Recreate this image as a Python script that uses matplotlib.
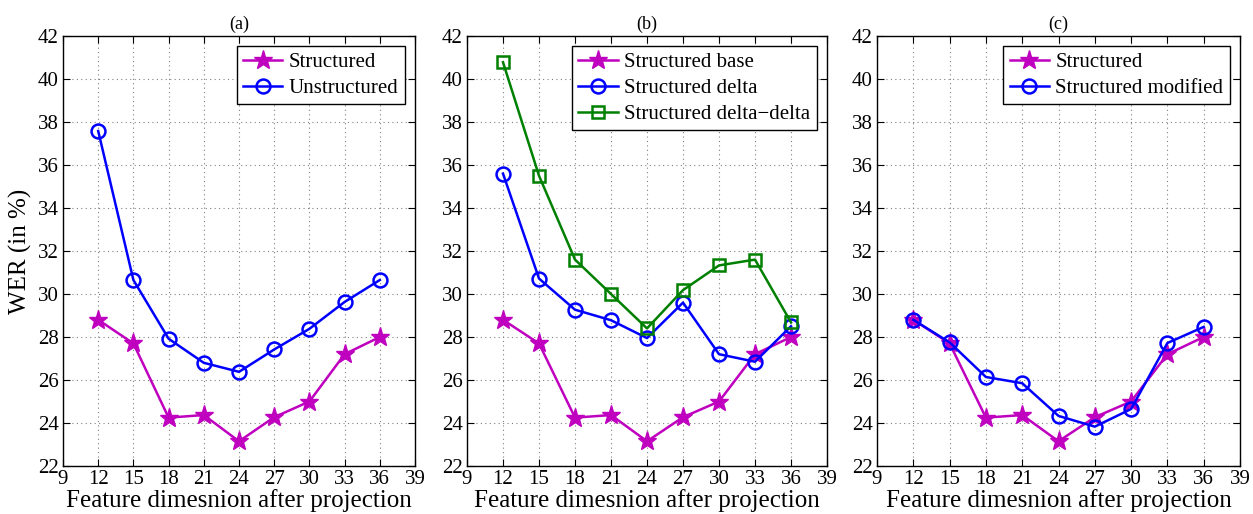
import matplotlib
matplotlib.use("Agg")
import matplotlib.pyplot as plt
import numpy as np

plt.rcParams['font.family'] = ['Liberation Serif', 'DejaVu Serif']
plt.rcParams['mathtext.fontset'] = 'stix'

dims = [12, 15, 18, 21, 24, 27, 30, 33, 36]

structured = [28.8, 27.7, 24.25, 24.37, 23.15, 24.27, 25.0, 27.2, 28.0]
unstructured = [37.58, 30.65, 27.92, 26.8, 26.38, 27.42, 28.38, 29.63, 30.65]

struct_delta = [35.6, 30.72, 29.27, 28.78, 27.95, 29.6, 27.2, 26.85, 28.5]
struct_delta_delta = [40.78, 35.5, 31.6, 30.0, 28.4, 30.18, 31.33, 31.6, 28.68]

struct_modified = [28.8, 27.75, 26.14, 25.85, 24.33, 23.83, 24.65, 27.72, 28.47]

xticks = list(range(9, 40, 3))
yticks = list(range(22, 43, 2))

MAGENTA = (0.75, 0.0, 0.75)
BLUE = (0.0, 0.0, 1.0)
GREEN = (0.0, 0.5, 0.0)

W, H = 1253, 514
fig = plt.figure(figsize=(W / 100, H / 100), dpi=100)

boxes = [(63, 415), (467, 827), (877, 1240)]
top, bottom = 36, 466


def make_axes(x0, x1):
    return fig.add_axes([x0 / W, (H - bottom) / H, (x1 - x0) / W, (bottom - top) / H])


def style(ax, title):
    ax.set_xlim(9, 39)
    ax.set_ylim(22, 42)
    ax.set_xticks(xticks)
    ax.set_yticks(yticks)
    ax.tick_params(direction='in', top=True, right=True, labelsize=15, length=5, width=0.8, pad=3)
    ax.grid(True, linestyle=(0, (1, 3)), color='0.5', linewidth=0.8)
    for s in ax.spines.values():
        s.set_linewidth(1.0)
    ax.set_title(title, fontsize=13, pad=5)
    ax.set_xlabel('Feature dimesnion after projection', fontsize=18, labelpad=0)


star_kw = dict(color=MAGENTA, marker='*', markersize=14, linewidth=1.8, markeredgecolor=MAGENTA)
circ_kw = dict(color=BLUE, marker='o', markersize=10, linewidth=1.8, markerfacecolor='none',
               markeredgewidth=1.8)
sq_kw = dict(color=GREEN, marker='s', markersize=8, linewidth=1.8, markerfacecolor='none',
             markeredgewidth=1.8)

leg_kw = dict(loc='upper right', fontsize=15, frameon=True, fancybox=False, edgecolor='black',
              framealpha=1, borderpad=0.3, labelspacing=0.3, handlelength=1.9,
              handletextpad=0.3, borderaxespad=0.5)

# (a)
ax = make_axes(*boxes[0])
ax.plot(dims, structured, label='Structured', **star_kw)
ax.plot(dims, unstructured, label='Unstructured', **circ_kw)
style(ax, '(a)')
ax.set_ylabel('WER (in %)', fontsize=18, labelpad=4)
lg = ax.legend(**leg_kw)
lg.get_frame().set_linewidth(1.0)

# (b)
ax = make_axes(*boxes[1])
ax.plot(dims, structured, label='Structured base', **star_kw)
ax.plot(dims, struct_delta, label='Structured delta', **circ_kw)
ax.plot(dims, struct_delta_delta, label='Structured delta\u2212delta', **sq_kw)
style(ax, '(b)')
lg = ax.legend(**leg_kw)
lg.get_frame().set_linewidth(1.0)

# (c)
ax = make_axes(*boxes[2])
ax.plot(dims, structured, label='Structured', **star_kw)
ax.plot(dims, struct_modified, label='Structured modified', **circ_kw)
style(ax, '(c)')
lg = ax.legend(**leg_kw)
lg.get_frame().set_linewidth(1.0)

fig.savefig('out.png', dpi=100)
